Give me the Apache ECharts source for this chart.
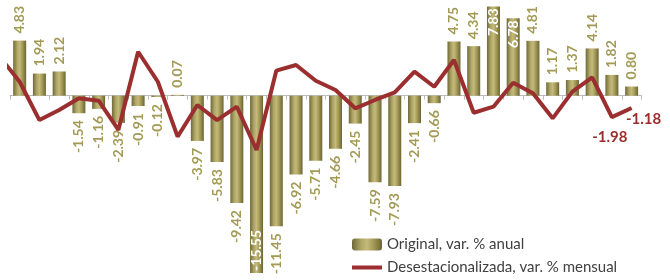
<!DOCTYPE html>
<html>
<head>
<meta charset="utf-8">
<script src="https://cdn.jsdelivr.net/npm/echarts@6/dist/echarts.min.js"></script>
<style>
  html, body { margin: 0; padding: 0; background: #fff; }
  #chart { width: 670px; height: 280px; }
</style>
</head>
<body>
<div id="chart"></div>
<script>
// periods (not labelled in the picture)
const periodos = Array.from({ length: 32 }, (_, i) => String(i + 1));

// Original, var. % anual
const anual = [4.83, 1.94, 2.12, -1.54, -1.16, -2.39, -0.91, -0.12, 0.07, -3.97,
  -5.83, -9.42, -15.55, -11.45, -6.92, -5.71, -4.66, -2.45, -7.59, -7.93,
  -2.41, -0.66, 4.75, 4.34, 7.83, 6.78, 4.81, 1.17, 1.37, 4.14, 1.82, 0.80];

// Desestacionalizada, var. % mensual (first value is the period before, cut at the left edge)
const mensual = [3.29, 1.12, -2.24, -1.36, -0.33, -0.54, -3.11, 3.75, 1.12, -3.70,
  -0.92, -2.24, -1.07, -4.87, 2.09, 2.59, 1.21, 0.39, -1.21, -0.48,
  0.19, 2.0, 0.68, 3.03, -1.60, -1.07, 1.04, 0.11, -2.09, 0.25,
  1.51, -1.98, -1.18];

// bars whose label sits inside in white
const dentro = [7.83, 6.78, -15.55];
// line points that carry a label
const conEtiqueta = [-1.98, -1.18];

const olive = "#a39b55";
const red = "#9b2f2f";
const font = "Lato";

const barFill = new echarts.graphic.LinearGradient(0, 0, 1, 0, [
  { offset: 0, color: "#6f6937" },
  { offset: 0.3, color: "#aea566" },
  { offset: 0.5, color: "#c4bb7b" },
  { offset: 0.75, color: "#9d9352" },
  { offset: 1, color: "#6a6433" },
]);

const barData = anual.map((v) => {
  const inside = dentro.includes(v);
  let label;
  if (inside) {
    label = v > 0
      ? { position: "insideTop", align: "right", distance: 2, color: "#fff" }
      : { position: "insideBottom", align: "left", distance: 2, color: "#fff" };
  } else {
    label = v >= 0
      ? { position: "top", align: "left" }
      : { position: "bottom", align: "right" };
  }
  return { value: v, label };
});

const lineData = mensual.map((v, i) => {
  const item = { value: [i - 1, v] };
  const k = conEtiqueta.indexOf(v);
  if (i >= mensual.length - 2 && k >= 0) {
    item.label = {
      show: true,
      position: "bottom",
      distance: k === 0 ? 13 : 4,
      offset: k === 0 ? [-2, 0] : [12, 0],
      color: red,
      fontFamily: font,
      fontWeight: "bold",
      fontSize: 15,
      formatter: (p) => p.value[1].toFixed(2),
    };
  }
  return item;
});

const chart = echarts.init(document.getElementById("chart"));
chart.setOption({
  animation: false,
  backgroundColor: "#fff",
  grid: { left: 9.8, right: 28.5, top: 0, bottom: 0 },
  legend: {
    orient: "vertical",
    left: 352,
    top: 237,
    height: 60,
    padding: 0,
    itemWidth: 30,
    itemHeight: 12,
    itemGap: 8,
    textStyle: { fontFamily: font, fontSize: 15, color: "#404040" },
    data: [
      { name: "Original, var. % anual" },
      { name: "Desestacionalizada, var. % mensual", icon: "path://M0,0H30V4H0Z" },
    ],
  },
  xAxis: [
    {
      type: "category",
      data: periodos,
      axisLine: { onZero: true, lineStyle: { color: "#bdbdbd", width: 1 } },
      axisTick: { show: true, length: 4, lineStyle: { color: "#bdbdbd" } },
      axisLabel: { show: false },
    },
    { type: "value", min: -0.5, max: 31.5, show: false },
  ],
  yAxis: [
    { type: "value", min: -16.17, max: 8.39, show: false, splitLine: { show: false } },
    { type: "value", min: -16.27, max: 8.29, show: false, splitLine: { show: false } },
  ],
  series: [
    {
      name: "Original, var. % anual",
      type: "bar",
      xAxisIndex: 0,
      yAxisIndex: 0,
      barWidth: 13,
      itemStyle: { color: barFill },
      label: {
        show: true,
        rotate: 90,
        verticalAlign: "middle",
        distance: 7,
        color: olive,
        fontFamily: font,
        fontWeight: "bold",
        fontSize: 14,
        formatter: (p) => p.value.toFixed(2),
      },
      data: barData,
      z: 2,
    },
    {
      name: "Desestacionalizada, var. % mensual",
      type: "line",
      xAxisIndex: 1,
      yAxisIndex: 1,
      symbol: "circle",
      symbolSize: 0.1,
      showSymbol: true,
      clip: true,
      lineStyle: { color: red, width: 4 },
      itemStyle: { color: red },
      data: lineData,
      z: 3,
    },
  ],
});
</script>
</body>
</html>
